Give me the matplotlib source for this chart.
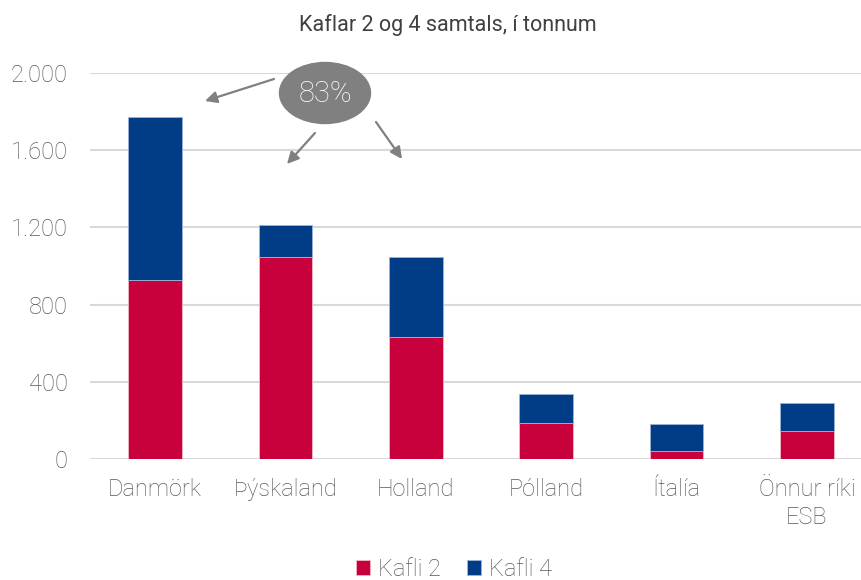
import matplotlib
matplotlib.use("Agg")
import matplotlib.pyplot as plt
from matplotlib.patches import Ellipse

categories = ["Danmörk", "Þýskaland", "Holland", "Pólland", "Ítalía", "Önnur ríki\nESB"]
kafli2 = [927, 1047, 632, 185, 41, 143]
kafli4 = [845, 165, 415, 153, 139, 147]
yticks = [0, 400, 800, 1200, 1600, 2000]
ytick_labels = ["0", "400", "800", "1.200", "1.600", "2.000"]
title = "Kaflar 2 og 4 samtals, í tonnum"
callout = "83%"

RED = "#C8003C"
BLUE = "#003D86"
GRID = "#D9D9D9"
TXT = "#595959"

plt.rcParams['font.family'] = ['Roboto', 'DejaVu Sans']

W, H = 862, 580
fig = plt.figure(figsize=(W/100, H/100), dpi=100)
# axes spanning pixel x 90..872, y 73..459
x0, x1 = 90, 872
y0, y1 = 459, 73
ax = fig.add_axes([x0/W, 1 - y0/H, (x1-x0)/W, (y0-y1)/H])
ax.set_xlim(-0.5, len(categories) - 0.5)
ax.set_ylim(0, 2000)

x = list(range(len(categories)))
ax.bar(x, kafli2, width=0.41, color=RED, edgecolor="#F2B8C8", linewidth=0.6, label="Kafli 2", zorder=3)
ax.bar(x, kafli4, bottom=kafli2, width=0.41, color=BLUE, edgecolor="#9DB3D6", linewidth=0.6, label="Kafli 4", zorder=3)

ax.set_yticks(yticks)
ax.set_yticklabels(ytick_labels)
ax.yaxis.grid(True, color=GRID, linewidth=1.5, zorder=0)
ax.set_axisbelow(True)
for s in ax.spines.values():
    s.set_visible(False)
ax.tick_params(axis='both', length=0, colors=TXT, labelsize=17)
ax.tick_params(axis='y', pad=16)
ax.tick_params(axis='x', pad=14)
ax.set_xticks(x)
ax.set_xticklabels(categories, linespacing=1.25)
for lbl in ax.get_xticklabels() + ax.get_yticklabels():
    lbl.set_fontweight('light')
    lbl.set_color(TXT)

fig.text(448/W, 1 - 25/H, title, ha='center', va='center', fontsize=15.5, color="#404040", fontweight='normal')

# callout ellipse
fax = fig.add_axes([0, 0, 1, 1], facecolor='none')
fax.set_xlim(0, W)
fax.set_ylim(H, 0)
fax.axis('off')
fax.add_patch(Ellipse((325, 93), 91, 61, color="#808080", zorder=5))
fax.text(325, 94, callout, ha='center', va='center', fontsize=21, color='white', fontweight='light', zorder=6)
arrows = [((274, 79), (205, 101)), ((315, 133), (287, 164)), ((376, 122), (402, 159))]
for (sx, sy), (ex, ey) in arrows:
    fax.annotate("", xy=(ex, ey), xytext=(sx, sy),
                 arrowprops=dict(arrowstyle="-|>,head_length=0.7,head_width=0.35", color="#808080", lw=1.6, shrinkA=0, shrinkB=0))

leg = fig.legend(loc='center', bbox_to_anchor=(454/W, 1 - 569/H), ncol=2, frameon=False,
                 fontsize=17, handlelength=0.6, handleheight=0.6, handletextpad=0.35, columnspacing=1.1)
for t in leg.get_texts():
    t.set_color(TXT)
    t.set_fontweight('light')

fig.savefig("out.png", dpi=100)
